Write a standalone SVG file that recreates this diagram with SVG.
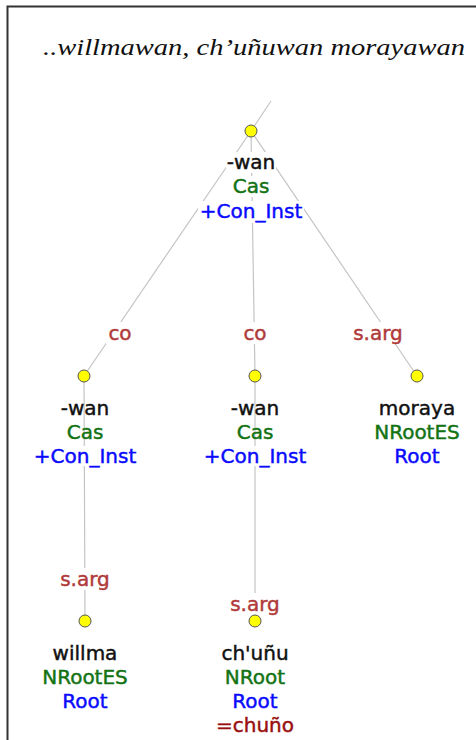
<svg xmlns="http://www.w3.org/2000/svg" width="476" height="740" viewBox="0 0 476 740">
<style>
.t{font-family:"DejaVu Sans",Verdana,sans-serif;font-size:20px;text-anchor:middle;stroke-width:0.45px}
.w{fill:#111;stroke:#111}.g{fill:#137313;stroke:#137313}.b{fill:#0a0aff;stroke:#0a0aff}.e{fill:#b03a3a;stroke:#b03a3a}.r{fill:#990f0f;stroke:#990f0f}
.bg{fill:#fff}
.edge{stroke:#c4c4c4;stroke-width:1.2;fill:none}
.dot{fill:#ffff00;stroke:#555;stroke-width:1}
</style>
<rect x="0" y="0" width="476" height="740" fill="#fff"/>
<path d="M7.5 740 V6.5 H476" fill="none" stroke="#333" stroke-width="2"/>
<text x="43" y="55" font-family="'Liberation Serif','DejaVu Serif',serif" font-style="italic" font-size="23" textLength="422" lengthAdjust="spacingAndGlyphs" fill="#111">..willmawan, ch’uñuwan morayawan</text>
<g id="connectors">
<line class="edge" x1="251" y1="131" x2="271" y2="101"/>
<line class="edge" x1="251" y1="131" x2="84" y2="376"/>
<line class="edge" x1="251" y1="131" x2="255" y2="376"/>
<line class="edge" x1="251" y1="131" x2="417" y2="376"/>
<line class="edge" x1="84" y1="376" x2="85" y2="621"/>
<line class="edge" x1="255" y1="376" x2="255" y2="621"/>
<rect class="bg" x="106" y="322" width="28" height="22"/>
<text class="t e" x="120" y="340">co</text>
<rect class="bg" x="241" y="322" width="28" height="22"/>
<text class="t e" x="255" y="340">co</text>
<rect class="bg" x="352" y="322" width="52" height="22"/>
<text class="t e" x="378" y="340">s.arg</text>
<rect class="bg" x="59" y="568" width="52" height="22"/>
<text class="t e" x="85" y="586">s.arg</text>
<rect class="bg" x="229" y="593" width="52" height="22"/>
<text class="t e" x="255" y="611">s.arg</text>
</g>
<g id="n_top">
<rect class="bg" x="226" y="152" width="50" height="21"/>
<rect class="bg" x="231" y="176" width="40" height="21"/>
<rect class="bg" x="198" y="201" width="106" height="22"/>
<circle class="dot" cx="251" cy="131" r="6"/>
<text class="t w" x="251" y="169">-wan</text>
<text class="t g" x="251" y="193">Cas</text>
<text class="t b" x="251" y="218">+Con_Inst</text>
</g>
<g id="n_left">
<circle class="dot" cx="84" cy="376" r="6"/>
<rect class="bg" x="33" y="446" width="104" height="20"/>
<text class="t w" x="85" y="415">-wan</text>
<text class="t g" x="85" y="439">Cas</text>
<text class="t b" x="85" y="463">+Con_Inst</text>
</g>
<g id="n_mid">
<circle class="dot" cx="255" cy="376" r="6"/>
<rect class="bg" x="203" y="446" width="104" height="20"/>
<text class="t w" x="255" y="415">-wan</text>
<text class="t g" x="255" y="439">Cas</text>
<text class="t b" x="255" y="463">+Con_Inst</text>
</g>
<g id="n_moraya">
<circle class="dot" cx="417" cy="376" r="6"/>
<text class="t w" x="417" y="415">moraya</text>
<text class="t g" x="417" y="439">NRootES</text>
<text class="t b" x="417" y="463">Root</text>
</g>
<g id="n_willma">
<circle class="dot" cx="85" cy="621" r="6"/>
<text class="t w" x="85" y="660">willma</text>
<text class="t g" x="85" y="684">NRootES</text>
<text class="t b" x="85" y="708">Root</text>
</g>
<g id="n_chunu">
<circle class="dot" cx="255" cy="621" r="6"/>
<text class="t w" x="255" y="660">ch'uñu</text>
<text class="t g" x="255" y="684">NRoot</text>
<text class="t b" x="255" y="708">Root</text>
<text class="t r" x="255" y="732">=chuño</text>
</g>
</svg>
